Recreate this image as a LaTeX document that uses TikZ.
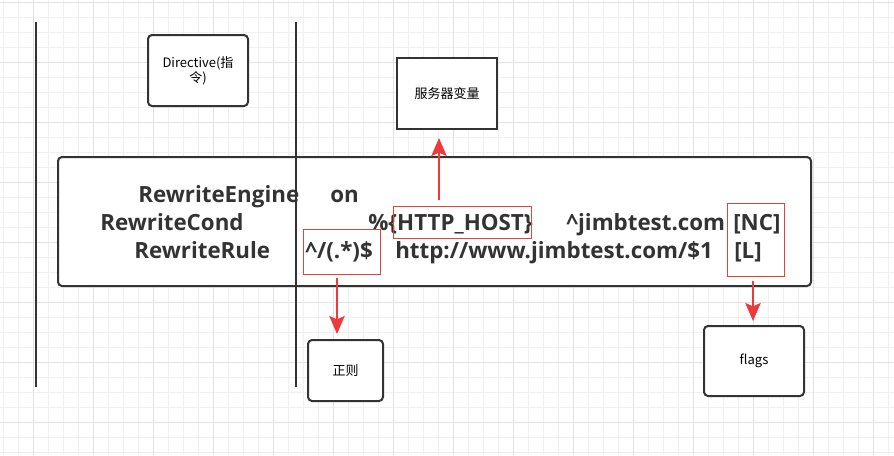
\documentclass[tikz,border=0pt]{standalone}
\usepackage{fontspec}
\setmainfont{Noto Sans CJK SC}
\newfontfamily\codefont{Open Sans}
\usetikzlibrary{arrows.meta}

\definecolor{gridlight}{HTML}{F0F0F0}
\definecolor{griddark}{HTML}{E2E2E2}
\definecolor{ink}{HTML}{333333}
\definecolor{markred}{HTML}{D9473F}
\definecolor{arrowred}{HTML}{F0393A}

\begin{document}
\begin{tikzpicture}[x=0.75pt,y=-0.75pt]
\tikzstyle{box}=[draw=ink,fill=white,line width=1.5pt,rounded corners=3pt,align=center,inner sep=0pt,font=\fontsize{9.75}{11.25}\selectfont]
\tikzstyle{redmark}=[draw=markred,line width=0.75pt,inner sep=0pt]
\tikzstyle{code}=[anchor=base west,inner sep=0pt,text=ink,font=\codefont\bfseries\fontsize{16.75}{18}\selectfont]
\tikzstyle{redarrow}=[draw=arrowred,line width=1.5pt,-{Stealth[length=13.5pt,width=11.5pt,inset=2.5pt]}]
\useasboundingbox (0,0) rectangle (894,455);
% background grid
\foreach \x in {3.3,18.3,...,894} \draw[gridlight,line width=0.75pt] (\x,0) -- (\x,455);
\foreach \y in {2.7,17.7,...,455} \draw[gridlight,line width=0.75pt] (0,\y) -- (894,\y);
\foreach \x in {33.3,93.3,...,894} \draw[griddark,line width=0.75pt] (\x,0) -- (\x,455);
\foreach \y in {2.7,62.7,...,455} \draw[griddark,line width=0.75pt] (0,\y) -- (894,\y);
% the rules box
\node [box,minimum width=564.75pt,minimum height=96.75pt] (cfg) at (434.5,221.5) {};
\draw[ink,line width=1.5pt] (36,22) -- (36,387);
\draw[ink,line width=1.5pt] (296,22) -- (296,387);
\node [code] (eng) at (138,202) {RewriteEngine};
\node [code] (on) at (330,202) {on};
\node [code] (cond) at (100,230) {RewriteCond};
\node [code] (host) at (368,230) {\%\{HTTP\_HOST\}};
\node [code] (pat) at (566,230) {\^{}jimbtest.com};
\node [code] (nc) at (733,230) {[NC]};
\node [code] (rule) at (134,258) {RewriteRule};
\node [code] (regex) at (305,258) {\^{}/(.*)\$};
\node [code] (url) at (395,258) {http://www.jimbtest.com/\$1};
\node [code] (last) at (734,258) {[L]};
% red marks
\node [redmark,minimum width=103.5pt,minimum height=24pt] (hh) at (462,222) {};
\node [redmark,minimum width=57.75pt,minimum height=33.75pt] (re) at (341.5,251.5) {};
\node [redmark,minimum width=42.75pt,minimum height=54.75pt] (fl) at (755.5,239.5) {};
% labels
\node [box,minimum width=75pt,minimum height=53.25pt] (dir) at (198,70.5) {Directive(指\\令)};
\node [box,rounded corners=0pt,minimum width=75pt,minimum height=53.25pt] (srv) at (447,93.5) {服务器变量};
\node [box,minimum width=56.25pt,minimum height=45.75pt] (zz) at (345.5,370.5) {正则};
\node [box,minimum width=75pt,minimum height=52.5pt] (flags) at (754,361) {flags};
% arrows
\draw[redarrow,shorten <=4.5pt,shorten >=6pt] ([xshift=-17.25pt]hh.north) -- ([xshift=-6pt]srv.south);
\draw[redarrow,shorten <=2.25pt,shorten >=3.75pt] ([xshift=-3.375pt]re.south) -- ([xshift=-6.375pt]zz.north);
\draw[redarrow,shorten <=3pt,shorten >=3pt] ([xshift=-1.875pt]fl.south) -- ([xshift=-0.75pt]flags.north);
\end{tikzpicture}
\end{document}
